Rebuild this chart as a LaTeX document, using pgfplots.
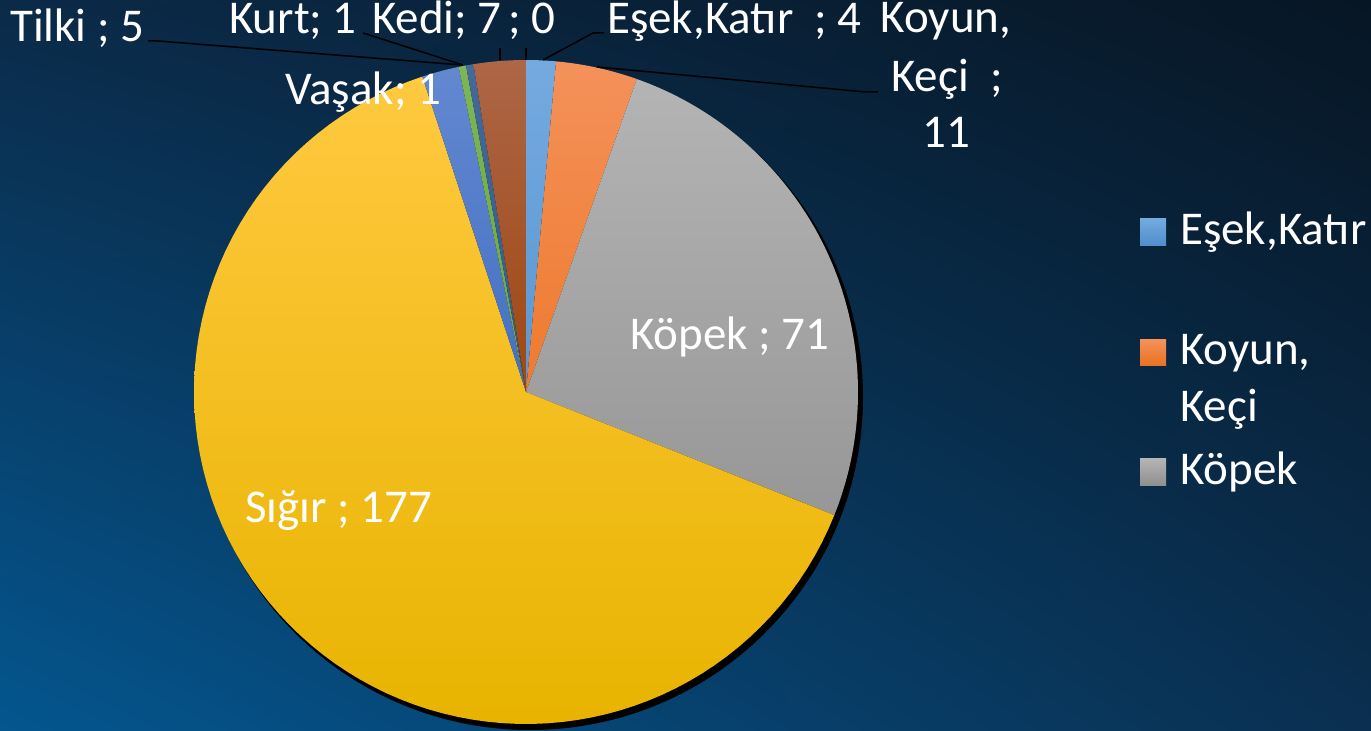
\documentclass[border=0pt]{standalone}
\usepackage{fontspec}
\setmainfont{Carlito}
\usepackage{pgfplots}
\pgfplotsset{compat=1.18}
\usetikzlibrary{shadings}
\definecolor{bgUL}{HTML}{0B2A48}
\definecolor{bgUR}{HTML}{071624}
\definecolor{bgLL}{HTML}{04568F}
\definecolor{bgLR}{HTML}{0A2F50}
\definecolor{c1t}{HTML}{74AADF}\definecolor{c1b}{HTML}{5A97D3}
\definecolor{c2t}{HTML}{F4915A}\definecolor{c2b}{HTML}{EE7A2E}
\definecolor{c3t}{HTML}{B4B4B4}\definecolor{c3b}{HTML}{979797}
\definecolor{c4t}{HTML}{FFC940}\definecolor{c4b}{HTML}{E8B400}
\definecolor{c5t}{HTML}{6288D0}\definecolor{c5b}{HTML}{4470C2}
\definecolor{c6t}{HTML}{7DB755}\definecolor{c6b}{HTML}{6AA641}
\definecolor{c7t}{HTML}{44699A}\definecolor{c7b}{HTML}{2E5C8E}
\definecolor{c8t}{HTML}{AD6647}\definecolor{c8b}{HTML}{9F4710}
\definecolor{l1b}{HTML}{4F8DCB}\definecolor{l2b}{HTML}{E97020}\definecolor{l3b}{HTML}{8E8E8E}
% values (clockwise from top)
\def\vEsek{4}\def\vKoyun{11}\def\vKopek{71}\def\vSigir{177}
\def\vTilki{5}\def\vVasak{1}\def\vKurt{1}\def\vKedi{7}\def\vZero{0}
\pgfmathsetmacro\tot{\vEsek+\vKoyun+\vKopek+\vSigir+\vTilki+\vVasak+\vKurt+\vKedi+\vZero}
\pgfmathsetmacro\aA{90}
\pgfmathsetmacro\aB{\aA-\vEsek/\tot*360}
\pgfmathsetmacro\aC{\aB-\vKoyun/\tot*360}
\pgfmathsetmacro\aD{\aC-\vKopek/\tot*360}
\pgfmathsetmacro\aE{\aD-\vSigir/\tot*360}
\pgfmathsetmacro\aF{\aE-\vTilki/\tot*360}
\pgfmathsetmacro\aG{\aF-\vVasak/\tot*360}
\pgfmathsetmacro\aH{\aG-\vKurt/\tot*360}
\pgfmathsetmacro\aI{\aH-\vKedi/\tot*360}
\newcommand\slice[4]{%
  \addplot[draw=none, top color=#3, bottom color=#4, domain=#2:#1, samples=90, variable=\t]
    ({526+332*cos(\t)},{339+332*sin(\t)}) -- (axis cs:526,339) -- cycle;}
\begin{document}
\begin{tikzpicture}
\useasboundingbox (0,0) rectangle (1371pt,731pt);
\clip (0,0) rectangle (1371pt,731pt);
\shade[upper left=bgUL, upper right=bgUR, lower left=bgLL, lower right=bgLR] (0,0) rectangle (1371pt,731pt);
\begin{axis}[at={(0,0)}, anchor=south west, width=1371pt, height=731pt, scale only axis,
  xmin=0, xmax=1371, ymin=0, ymax=731, hide axis, clip=false]
\fill[black] (axis cs:530,334) circle[radius=333pt];
\slice{\aA}{\aB}{c1t}{c1b}
\slice{\aB}{\aC}{c2t}{c2b}
\slice{\aC}{\aD}{c3t}{c3b}
\slice{\aD}{\aE}{c4t}{c4b}
\slice{\aE}{\aF}{c5t}{c5b}
\slice{\aF}{\aG}{c6t}{c6b}
\slice{\aG}{\aH}{c7t}{c7b}
\slice{\aH}{\aI}{c8t}{c8b}
% leader lines
\begin{scope}[line width=1.5pt, black]
\draw (axis cs:148,690) -- (axis cs:158,690) -- (axis cs:462,666);
\draw (axis cs:363,698) -- (axis cs:463,666);
\draw (axis cs:500,683) -- (axis cs:500,671);
\draw (axis cs:526,683) -- (axis cs:526,671);
\draw (axis cs:604,698) -- (axis cs:593,698) -- (axis cs:543,671);
\draw (axis cs:878,639) -- (axis cs:866,639) -- (axis cs:597,664);
\end{scope}
% labels
\begin{scope}[every node/.style={text=white, font=\fontsize{47}{57}\selectfont, inner sep=0pt}]
\node[anchor=base west] at (axis cs:10,689) {Tilki ; 5};
\node[anchor=base west] at (axis cs:229,697) {Kurt; 1};
\node[anchor=base west] at (axis cs:372,697) {Kedi; 7};
\node[anchor=base west] at (axis cs:508,697) {; 0};
\node[anchor=base west] at (axis cs:607,697) {Eşek,Katır\ \ ; 4};
\node[anchor=base] at (axis cs:946,698) {Koyun,};
\node[anchor=base] at (axis cs:947,639) {Keçi\ \ ;};
\node[anchor=base] at (axis cs:946,583) {11};
\node[anchor=base west] at (axis cs:285,626) {Vaşak; 1};
\node[anchor=base west] at (axis cs:630,381) {Köpek ; 71};
\node[anchor=base west] at (axis cs:245,208) {Sığır ; 177};
% legend
\node[anchor=base west] at (axis cs:1180,486) {Eşek,Katır};
\node[anchor=base west] at (axis cs:1180,366) {Koyun,};
\node[anchor=base west] at (axis cs:1180,309) {Keçi};
\node[anchor=base west] at (axis cs:1180,246) {Köpek};
\end{scope}
\shade[top color=c1t, bottom color=l1b] (axis cs:1140,485) rectangle (axis cs:1166,512);
\shade[top color=c2t, bottom color=l2b] (axis cs:1140,365) rectangle (axis cs:1166,391);
\shade[top color=c3t, bottom color=l3b] (axis cs:1140,245) rectangle (axis cs:1166,272);
\end{axis}
\end{tikzpicture}
\end{document}
